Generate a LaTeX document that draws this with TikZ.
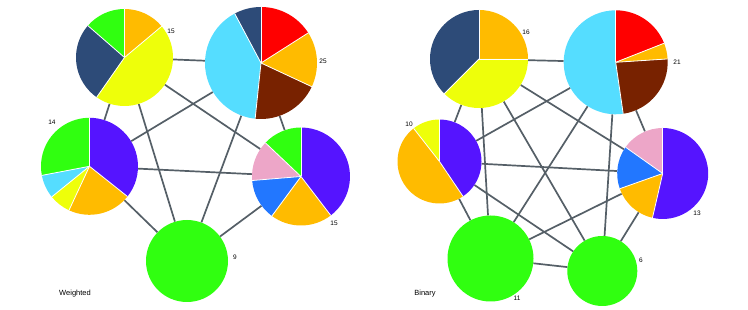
\documentclass[tikz,border=0pt]{standalone}
\usepackage{fontspec}
\setmainfont{Liberation Sans}
\definecolor{orangeC}{HTML}{FFBB00}
\definecolor{yellowC}{HTML}{EEFF0A}
\definecolor{navyC}{HTML}{2D4B78}
\definecolor{greenC}{HTML}{30FF10}
\definecolor{cyanC}{HTML}{55DDFF}
\definecolor{redC}{HTML}{FF0000}
\definecolor{brownC}{HTML}{782200}
\definecolor{purpleC}{HTML}{5514FF}
\definecolor{pinkC}{HTML}{EDA6C8}
\definecolor{blueC}{HTML}{2277FF}
\definecolor{edgeC}{HTML}{555F67}
\tikzset{
  pienode/.style={circle, inner sep=0pt, minimum size=#1},
  link/.style={draw=edgeC, line width=1.7pt},
  sepline/.style={draw=white, line width=0.8pt},
  numlabel/.style={font=\fontsize{6.5}{7.5}\selectfont, inner sep=0pt},
  paneltitle/.style={font=\fontsize{7.5}{9}\selectfont, inner sep=0pt}
}
\newcommand{\drawpie}[3]{%
  \foreach \a/\b/\c in {#3} {\fill[\c] (#1.center) -- ++(\a:#2) arc[start angle=\a, end angle=\b, radius=#2] -- cycle;}
  \foreach \a/\b/\c in {#3} {\draw[sepline] (#1.center) -- ++(\a:#2);}
}
\begin{document}
\begin{tikzpicture}[x=1pt,y=1pt]
\useasboundingbox (0,0) rectangle (748,310);
% ---------- Weighted panel ----------
\node[pienode=97pt]  (A) at (124.5,252.5) {};
\node[pienode=112pt] (B) at (261,247) {};
\node[pienode=97pt]  (C) at (89.5,143.7) {};
\node[pienode=98pt]  (D) at (301,133.5) {};
\node[pienode=82pt, fill=greenC] (E) at (187,49) {};
\foreach \u/\v in {A/B,A/C,A/D,A/E,B/C,B/D,B/E,C/D,C/E,D/E} {\draw[link] (\u) -- (\v);}
\drawpie{A}{48.5}{40/90/orangeC,90/139/greenC,139/235/navyC,235/400/yellowC}
\drawpie{B}{56}{90/118/navyC,118/264/cyanC,264/335/brownC,335/392.5/orangeC,32.5/90/redC}
\drawpie{C}{48.5}{90/190.8/greenC,190.8/219/cyanC,219/245/yellowC,245/321.5/orangeC,321.5/450/purpleC}
\drawpie{D}{49}{90/136.6/greenC,136.6/184.7/pinkC,184.7/233.6/blueC,233.6/307.4/orangeC,307.4/450/purpleC}
\node[numlabel] (lA) at (171,279) {15};
\node[numlabel] (lB) at (323,249) {25};
\node[numlabel] (lC) at (52,188) {14};
\node[numlabel] (lD) at (334,87) {15};
\node[numlabel] (lE) at (235,53) {9};
\node[paneltitle] (tW) at (75,16) {Weighted};
% ---------- Binary panel ----------
\node[pienode=98pt]  (A2) at (479,251) {};
\node[pienode=104pt] (B2) at (615.7,247.7) {};
\node[pienode=84pt]  (C2) at (439.5,148.5) {};
\node[pienode=91pt]  (D2) at (662.7,136.5) {};
\node[pienode=86pt, fill=greenC] (E2) at (490.5,51.5) {};
\node[pienode=70pt, fill=greenC] (F2) at (602.3,39) {};
\foreach \u/\v in {A2/B2,A2/C2,A2/D2,A2/E2,A2/F2,B2/C2,B2/D2,B2/E2,B2/F2,C2/D2,C2/E2,C2/F2,D2/E2,D2/F2,E2/F2} {\draw[link] (\u) -- (\v);}
\drawpie{A2}{49}{0/90/orangeC,90/225/navyC,225/360/yellowC}
\drawpie{B2}{52}{21.5/90/redC,90/278.3/cyanC,278.3/363.7/brownC,3.7/21.5/orangeC}
\drawpie{C2}{42}{90/128/yellowC,128/304/orangeC,304/450/purpleC}
\drawpie{D2}{45.5}{90/144.7/pinkC,144.7/199.5/blueC,199.5/257/orangeC,257/450/purpleC}
\node[numlabel] (lA2) at (526,278) {16};
\node[numlabel] (lB2) at (677,248) {21};
\node[numlabel] (lC2) at (409,186) {10};
\node[numlabel] (lD2) at (697,97) {13};
\node[numlabel] (lE2) at (517,12) {11};
\node[numlabel] (lF2) at (641,50) {6};
\node[paneltitle] (tB) at (425,16) {Binary};
\end{tikzpicture}
\end{document}
